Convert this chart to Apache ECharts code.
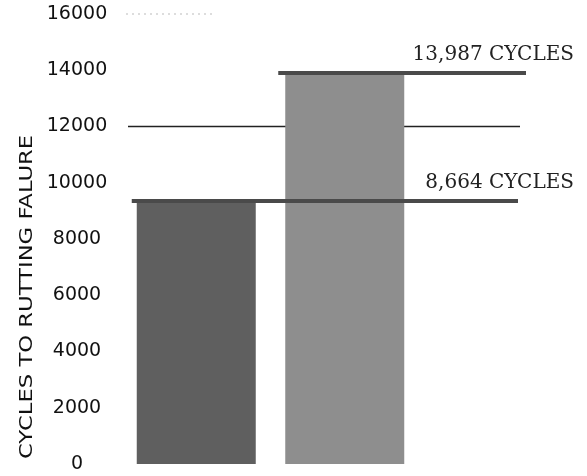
<!DOCTYPE html>
<html>
<head>
<meta charset="utf-8">
<script src="https://cdn.jsdelivr.net/npm/echarts@6/dist/echarts.min.js"></script>
<style>
html,body{margin:0;padding:0;background:#fff;}
#chart{width:587px;height:476px;}
</style>
</head>
<body>
<div id="chart"></div>
<script>
// Data
const categories = ['Mix A', 'Mix B'];
const cyclesDrawn = [9350, 13900];            // bar heights as drawn against the axis
const cycleLabels = ['8,664 CYCLES', '13,987 CYCLES'];
const yAxisTitle = 'CYCLES TO RUTTING FALURE';
const yMin = 0, yMax = 16000, yStep = 2000;

const barColors = ['#5f5f5f', '#8e8e8e'];
const barWidth = 119;

const chart = echarts.init(document.getElementById('chart'), null, {renderer: 'canvas'});
chart.setOption({
  animation: false,
  backgroundColor: '#fff',
  grid: {left: 122, right: 168, top: 14, bottom: 12},
  xAxis: {
    type: 'category', data: categories,
    axisLine: {show: false}, axisTick: {show: false}, axisLabel: {show: false}
  },
  yAxis: {
    type: 'value', min: yMin, max: yMax, interval: yStep,
    axisLine: {show: false}, axisTick: {show: false}, splitLine: {show: false},
    axisLabel: {fontFamily: 'DejaVu Sans', fontSize: 19, color: '#111', margin: 45,
      align: 'center', formatter: v => String(v)}
  },
  series: [{
    type: 'bar', barWidth: barWidth, z: 2,
    data: cyclesDrawn.map((v, i) => ({value: v, itemStyle: {color: barColors[i]}}))
  }]
});

function px(cat, v) { return chart.convertToPixel({seriesIndex: 0}, [cat, v]); }

const gridLeft = 122;
const gy12 = chart.convertToPixel({yAxisIndex: 0}, 12000);
const gy16 = chart.convertToPixel({yAxisIndex: 0}, 16000);

const elements = [];
elements.push({type: 'line', z: 1, shape: {x1: gridLeft + 6, y1: gy12, x2: 520, y2: gy12},
  style: {stroke: '#222', lineWidth: 1.5}});
elements.push({type: 'line', z: 1, shape: {x1: gridLeft + 4, y1: gy16, x2: 215, y2: gy16},
  style: {stroke: '#bbb', lineWidth: 1, lineDash: [2, 4]}});

const lineEnds = [518, 526];
const lineStartPad = [5, 7];
categories.forEach((c, i) => {
  const p = px(c, cyclesDrawn[i]);
  const left = p[0] - barWidth / 2 - lineStartPad[i];
  elements.push({type: 'line', z: 10, shape: {x1: left, y1: p[1], x2: lineEnds[i], y2: p[1]},
    style: {stroke: '#4a4a4a', lineWidth: 4}});
  elements.push({type: 'text', z: 11, x: 574, y: p[1] - 8,
    style: {text: cycleLabels[i], fontFamily: 'DejaVu Serif', fontSize: 20, fill: '#222',
      align: 'right', verticalAlign: 'bottom'}});
});

elements.push({type: 'text', z: 11, x: 27, y: 297, rotation: Math.PI / 2, scaleX: 1.26,
  style: {text: yAxisTitle, fontFamily: 'DejaVu Sans', fontSize: 18, fill: '#111',
    align: 'center', verticalAlign: 'middle'}});

chart.setOption({graphic: {elements: elements}});
</script>
</body>
</html>
